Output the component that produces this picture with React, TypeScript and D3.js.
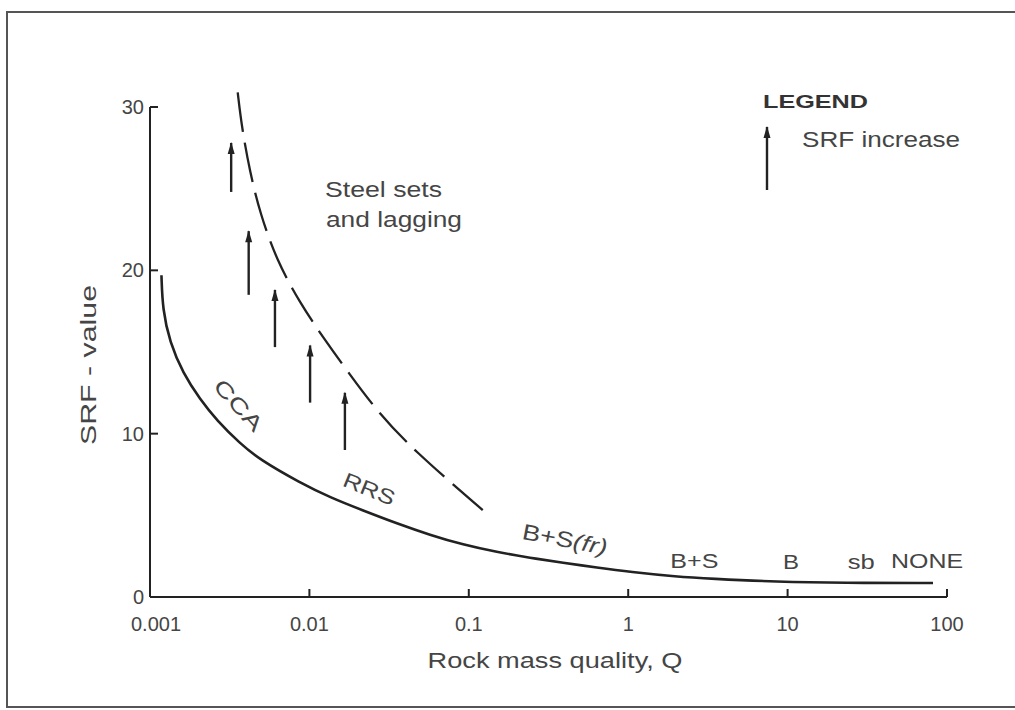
import React from "react";
import * as d3 from "d3";

// Solid curve (support boundary) : rock mass quality Q vs SRF
const solidQ = [0.00118, 0.0012, 0.00133, 0.00161, 0.00206, 0.00263, 0.00367, 0.0049, 0.00873, 0.01346, 0.0217, 0.0355, 0.0571, 0.092, 0.15, 0.242, 0.39, 0.637, 1.03, 2.02, 3.26, 8.57, 22.2, 81.7];
const solidSRF = [19.7, 17.6, 15.6, 13.7, 12.1, 10.8, 9.4, 8.4, 7.0, 6.1, 5.3, 4.5, 3.8, 3.2, 2.75, 2.4, 2.1, 1.8, 1.53, 1.24, 1.12, 0.93, 0.86, 0.86];

// Dashed curve (steel sets and lagging boundary)
const dashQ = [0.00355, 0.00376, 0.00424, 0.0049, 0.00624, 0.00873, 0.01217, 0.018, 0.0265, 0.0447, 0.123];
const dashSRF = [30.9, 28.8, 26.0, 23.5, 20.6, 18.0, 15.9, 13.6, 11.4, 9.0, 5.3];

// SRF-increase arrows
const arrowQ = [0.00323, 0.00416, 0.00608, 0.0101, 0.0167];
const arrowFrom = [24.8, 18.5, 15.3, 11.9, 9.0];
const arrowTo = [27.8, 22.4, 18.8, 15.4, 12.5];

// Axis ticks
const xTicks = [0.001, 0.01, 0.1, 1, 10, 100];
const xTickLabels = ["0.001", "0.01", "0.1", "1", "10", "100"];
const yTicks = [0, 10, 20, 30];

// Support category labels along the curve
const catLabels = ["CCA", "RRS", "B+S", "B", "sb", "NONE"];
const catQ = [0.00332, 0.0228, 2.6, 10.5, 29, 75];
const catSRF = [11.45, 6.2, 1.75, 1.72, 1.72, 1.75];
const catAngle = [48, 22, 0, 0, 0, 0];
const catWidth = [62, 54, 48, 16, 27, 72];

const FONT = "'Liberation Sans', Arial, Helvetica, sans-serif";
const TXT = "#454545";
const INK = "#222";

export default function App() {
  const x = d3.scaleLog().domain([0.001, 100]).range([150, 947]);
  const y = d3.scaleLinear().domain([0, 30]).range([597, 107]);

  const line = d3
    .line<[number, number]>()
    .x((d) => x(d[0]))
    .y((d) => y(d[1]))
    .curve(d3.curveBasis);

  const solidPath = line(solidQ.map((q, i) => [q, solidSRF[i]]) as [number, number][]) || "";
  const dashPath = line(dashQ.map((q, i) => [q, dashSRF[i]]) as [number, number][]) || "";

  const fr = { q: 0.393, srf: 3.07, angle: 11 };

  return (
    <svg
      width={1015}
      height={710}
      style={{ position: "absolute", left: 0, top: 0, background: "#fff" }}
      fontFamily={FONT}
    >
      <defs>
        <marker id="ah" viewBox="0 0 12 8" refX="11" refY="4" markerWidth="13" markerHeight="8" markerUnits="userSpaceOnUse" orient="auto">
          <path d="M0,0.5 L12,4 L0,7.5 Z" fill={INK} />
        </marker>
      </defs>

      {/* frame */}
      <rect x={7} y={12} width={1030} height={695} fill="none" stroke="#555" strokeWidth={2} />

      {/* axes */}
      <line x1={x(0.001)} x2={x(0.001)} y1={y(0)} y2={y(30)} stroke={INK} strokeWidth={2} />
      <line x1={x(0.001)} x2={x(100)} y1={y(0)} y2={y(0)} stroke={INK} strokeWidth={2} />
      {yTicks.filter((t) => t > 0).map((t) => (
        <line key={"yt" + t} x1={x(0.001)} x2={x(0.001) + 8} y1={y(t)} y2={y(t)} stroke={INK} strokeWidth={2} />
      ))}
      {xTicks.filter((t) => t > 0.001).map((t) => (
        <line key={"xt" + t} x1={x(t)} x2={x(t)} y1={y(0)} y2={y(0) - 8} stroke={INK} strokeWidth={2} />
      ))}
      {yTicks.map((t) => (
        <text key={"yl" + t} x={x(0.001) - 6} y={y(t) + 7} textAnchor="end" fontSize={20} fill={TXT}>
          {t}
        </text>
      ))}
      {xTicks.map((t, i) => (
        <text key={"xl" + t} x={x(t) + (i === 0 ? 6 : 0)} y={631} textAnchor="middle" fontSize={20} fill={TXT}>
          {xTickLabels[i]}
        </text>
      ))}

      {/* axis titles */}
      <text x={555} y={668} textAnchor="middle" fontSize={22} fill={TXT} textLength={255} lengthAdjust="spacingAndGlyphs">
        Rock mass quality, Q
      </text>
      <text
        transform="translate(96,365) rotate(-90)"
        textAnchor="middle"
        fontSize={22}
        fill={TXT}
        textLength={160}
        lengthAdjust="spacingAndGlyphs"
      >
        SRF - value
      </text>

      {/* curves */}
      <path d={solidPath} fill="none" stroke={INK} strokeWidth={2.6} />
      <path d={dashPath} fill="none" stroke={INK} strokeWidth={2.3} strokeDasharray="40 11" />

      {/* arrows */}
      {arrowQ.map((q, i) => (
        <line
          key={"ar" + i}
          x1={x(q)}
          x2={x(q)}
          y1={y(arrowFrom[i])}
          y2={y(arrowTo[i])}
          stroke={INK}
          strokeWidth={2.4}
          markerEnd="url(#ah)"
        />
      ))}

      {/* region label */}
      <text x={325} y={197} fontSize={22} fill={TXT} textLength={117} lengthAdjust="spacingAndGlyphs">
        Steel sets
      </text>
      <text x={326} y={227} fontSize={22} fill={TXT} textLength={136} lengthAdjust="spacingAndGlyphs">
        and lagging
      </text>

      {/* category labels */}
      {catLabels.map((l, i) => (
        <text
          key={"c" + i}
          transform={`translate(${x(catQ[i])},${y(catSRF[i])}) rotate(${catAngle[i]})`}
          textAnchor="middle"
          fontSize={21}
          fill={TXT}
          textLength={catWidth[i]}
          lengthAdjust="spacingAndGlyphs"
        >
          {l}
        </text>
      ))}
      <text
        transform={`translate(${x(fr.q)},${y(fr.srf)}) rotate(${fr.angle})`}
        textAnchor="middle"
        fontSize={22}
        fill={TXT}
        textLength={86}
        lengthAdjust="spacingAndGlyphs"
      >
        B+S<tspan fontStyle="italic">(fr)</tspan>
      </text>

      {/* legend */}
      <text x={763} y={108} fontSize={19} fontWeight="bold" fill="#333" textLength={105} lengthAdjust="spacingAndGlyphs">
        LEGEND
      </text>
      <line x1={767} x2={767} y1={190} y2={127} stroke={INK} strokeWidth={2.4} markerEnd="url(#ah)" />
      <text x={802} y={147} fontSize={22} fill={TXT} textLength={158} lengthAdjust="spacingAndGlyphs">
        SRF increase
      </text>
    </svg>
  );
}
